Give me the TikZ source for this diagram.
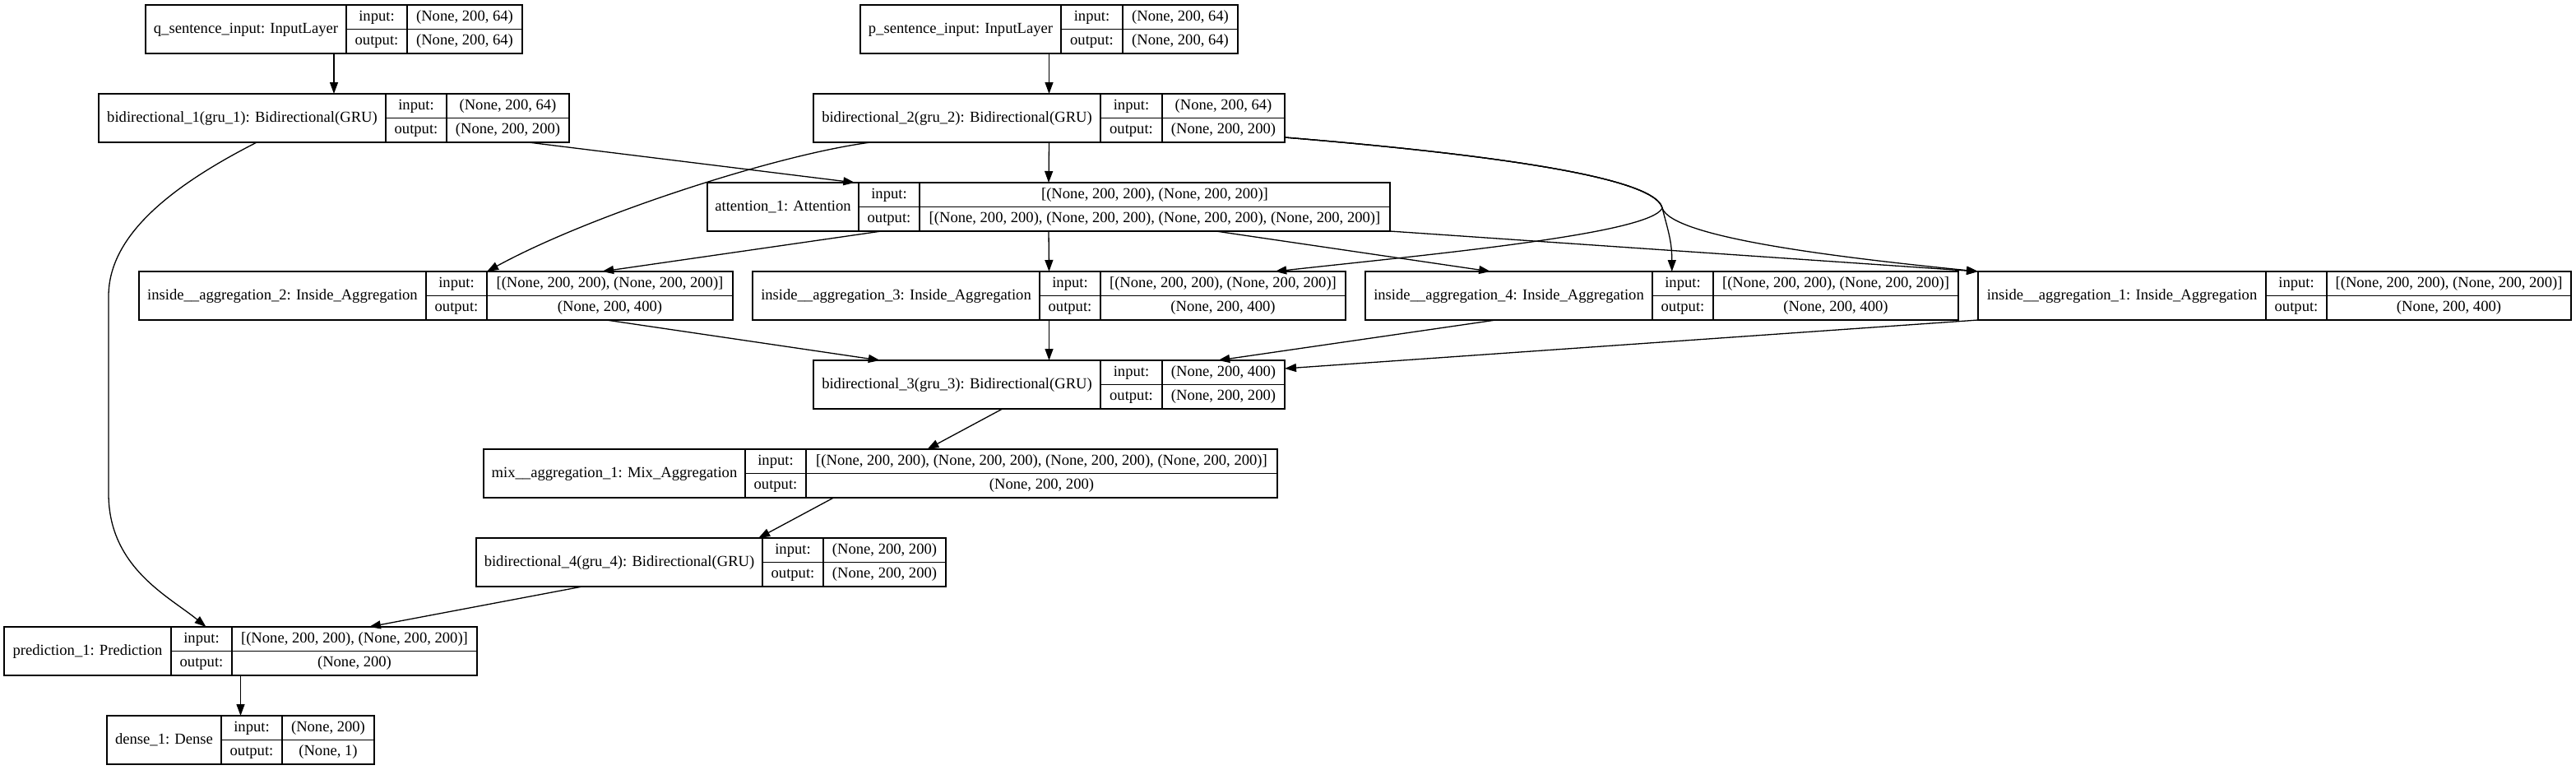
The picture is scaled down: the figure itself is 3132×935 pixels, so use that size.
\documentclass[tikz,border=0pt]{standalone}
\usepackage{fontspec}
\setmainfont{Liberation Serif}
\usepackage{tikz}
\usetikzlibrary{positioning,arrows.meta,calc}

\tikzset{
  layer/.style={draw,line width=1.3pt,inner sep=0pt,outer sep=0pt,minimum height=59pt},
  cell/.style={inner sep=0pt,text height=13pt,text depth=4pt},
  link/.style={->,line width=1.3pt},
}

% #1 name, #2 left, #3 first split, #4 second split, #5 right, #6 top,
% #7 layer text, #8 input shape, #9 output shape
\newcommand{\kerasbox}[9]{%
  \node[layer,minimum width={(#5-#2)*1pt}] (#1) at ({(#2+#5)/2},{#6+29.5}) {};
  \draw[line width=1.1pt] (#3,#6) -- (#3,#6+59) (#4,#6) -- (#4,#6+59)
    (#3,#6+29.5) -- (#5,#6+29.5);
  \node[cell] (#1-l) at ({(#2+#3)/2},{#6+29.5}) {#7};
  \node[cell] (#1-i) at ({(#3+#4)/2},{#6+14.75}) {input:};
  \node[cell] (#1-o) at ({(#3+#4)/2},{#6+44.25}) {output:};
  \node[cell] (#1-a) at ({(#4+#5)/2},{#6+14.75}) {#8};
  \node[cell] (#1-b) at ({(#4+#5)/2},{#6+44.25}) {#9};
}

\begin{document}
\begin{tikzpicture}[x=1pt,y=-1pt,>={Triangle[length=14pt,width=10pt]},every node/.style={font=\fontsize{18.6}{22}\selectfont}]
\useasboundingbox (0,0) rectangle (3132,935);

\kerasbox{qin}{177}{421}{495}{635}{6}{q\_sentence\_input: InputLayer}{(None, 200, 64)}{(None, 200, 64)}
\kerasbox{pin}{1046}{1290}{1365}{1505}{6}{p\_sentence\_input: InputLayer}{(None, 200, 64)}{(None, 200, 64)}
\kerasbox{bi1}{120}{469}{543}{692}{114}{bidirectional\_1(gru\_1): Bidirectional(GRU)}{(None, 200, 64)}{(None, 200, 200)}
\kerasbox{bi2}{989}{1338}{1413}{1562}{114}{bidirectional\_2(gru\_2): Bidirectional(GRU)}{(None, 200, 64)}{(None, 200, 200)}
\kerasbox{att}{860}{1044}{1118}{1690}{222}{attention\_1: Attention}{[(None, 200, 200), (None, 200, 200)]}{[(None, 200, 200), (None, 200, 200), (None, 200, 200), (None, 200, 200)]}
\kerasbox{ia2}{169}{518}{592}{891}{330}{inside\_\_aggregation\_2: Inside\_Aggregation}{[(None, 200, 200), (None, 200, 200)]}{(None, 200, 400)}
\kerasbox{ia3}{915}{1264}{1338}{1636}{330}{inside\_\_aggregation\_3: Inside\_Aggregation}{[(None, 200, 200), (None, 200, 200)]}{(None, 200, 400)}
\kerasbox{ia4}{1660}{2009}{2083}{2381}{330}{inside\_\_aggregation\_4: Inside\_Aggregation}{[(None, 200, 200), (None, 200, 200)]}{(None, 200, 400)}
\kerasbox{ia1}{2405}{2755}{2829}{3126}{330}{inside\_\_aggregation\_1: Inside\_Aggregation}{[(None, 200, 200), (None, 200, 200)]}{(None, 200, 400)}
\kerasbox{bi3}{989}{1338}{1413}{1562}{438}{bidirectional\_3(gru\_3): Bidirectional(GRU)}{(None, 200, 400)}{(None, 200, 200)}
\kerasbox{mix}{588}{906}{980}{1553}{546}{mix\_\_aggregation\_1: Mix\_Aggregation}{[(None, 200, 200), (None, 200, 200), (None, 200, 200), (None, 200, 200)]}{(None, 200, 200)}
\kerasbox{bi4}{579}{927}{1001}{1150}{654}{bidirectional\_4(gru\_4): Bidirectional(GRU)}{(None, 200, 200)}{(None, 200, 200)}
\kerasbox{pred}{5}{208}{282}{580}{762}{prediction\_1: Prediction}{[(None, 200, 200), (None, 200, 200)]}{(None, 200)}
\kerasbox{dense}{130}{269}{343}{455}{870}{dense\_1: Dense}{(None, 200)}{(None, 1)}

% inputs
\draw[link] (qin.south) -- (bi1.north);
\draw[link] (pin.south) -- (bi2.north);
% into attention
\draw[link] ($(bi1.south west)!0.913!(bi1.south east)$) -- ($(att.north west)!0.216!(att.north east)$);
\draw[link] (bi2.south) -- (att.north);
% bi2 to the aggregations
\draw[link] ($(bi2.south west)!0.122!(bi2.south east)$) .. controls +(-110,14) and +(128,-70) .. ($(ia2.north west)!0.586!(ia2.north east)$);
\coordinate (fork) at (2021,253);
\draw[link] ($(bi2.south east)+(0,-6)$) .. controls +(340,28) and +(-6,-28) .. (fork) .. controls +(8,30) and +(0,-35) .. ($(ia4.north west)!0.517!(ia4.north east)$);
\draw[link] ($(bi2.south east)+(0,-6)$) .. controls +(340,28) and +(-6,-28) .. (fork) .. controls +(12,35) and +(-180,-18) .. (ia1.north west);
\draw[link] ($(bi2.south east)+(0,-6)$) .. controls +(340,28) and +(-6,-28) .. (fork) .. controls +(-15,32) and +(180,-20) .. ($(ia3.north west)!0.881!(ia3.north east)$);
% attention to the aggregations
\draw[link] ($(att.south west)!0.255!(att.south east)$) -- ($(ia2.north west)!0.78!(ia2.north east)$);
\draw[link] (att.south) -- (ia3.north);
\draw[link] ($(att.south west)!0.745!(att.south east)$) -- ($(ia4.north west)!0.211!(ia4.north east)$);
\draw[link] (att.south east) -- (ia1.north west);
% aggregations to bi3
\draw[link] ($(ia2.south west)!0.787!(ia2.south east)$) -- ($(bi3.north west)!0.141!(bi3.north east)$);
\draw[link] (ia3.south) -- (bi3.north);
\draw[link] ($(ia4.south west)!0.22!(ia4.south east)$) -- ($(bi3.north west)!0.859!(bi3.north east)$);
\draw[link] (ia1.south west) -- ($(bi3.north east)+(0,10)$);
% down the chain
\draw[link] ($(bi3.south west)!0.401!(bi3.south east)$) -- ($(mix.north west)!0.559!(mix.north east)$);
\draw[link] ($(mix.south west)!0.441!(mix.south east)$) -- ($(bi4.north west)!0.601!(bi4.north east)$);
\draw[link] ($(bi4.south west)!0.226!(bi4.south east)$) -- ($(pred.north west)!0.772!(pred.north east)$);
\draw[link] ($(bi1.south west)!0.336!(bi1.south east)$) .. controls +(-112,57) and +(0,-70) .. (132,360) -- (132,600) .. controls +(0,90) and +(-45,-37) .. ($(pred.north west)!0.427!(pred.north east)$);
\draw[link] (pred.south) -- (dense.north);
\end{tikzpicture}
\end{document}
